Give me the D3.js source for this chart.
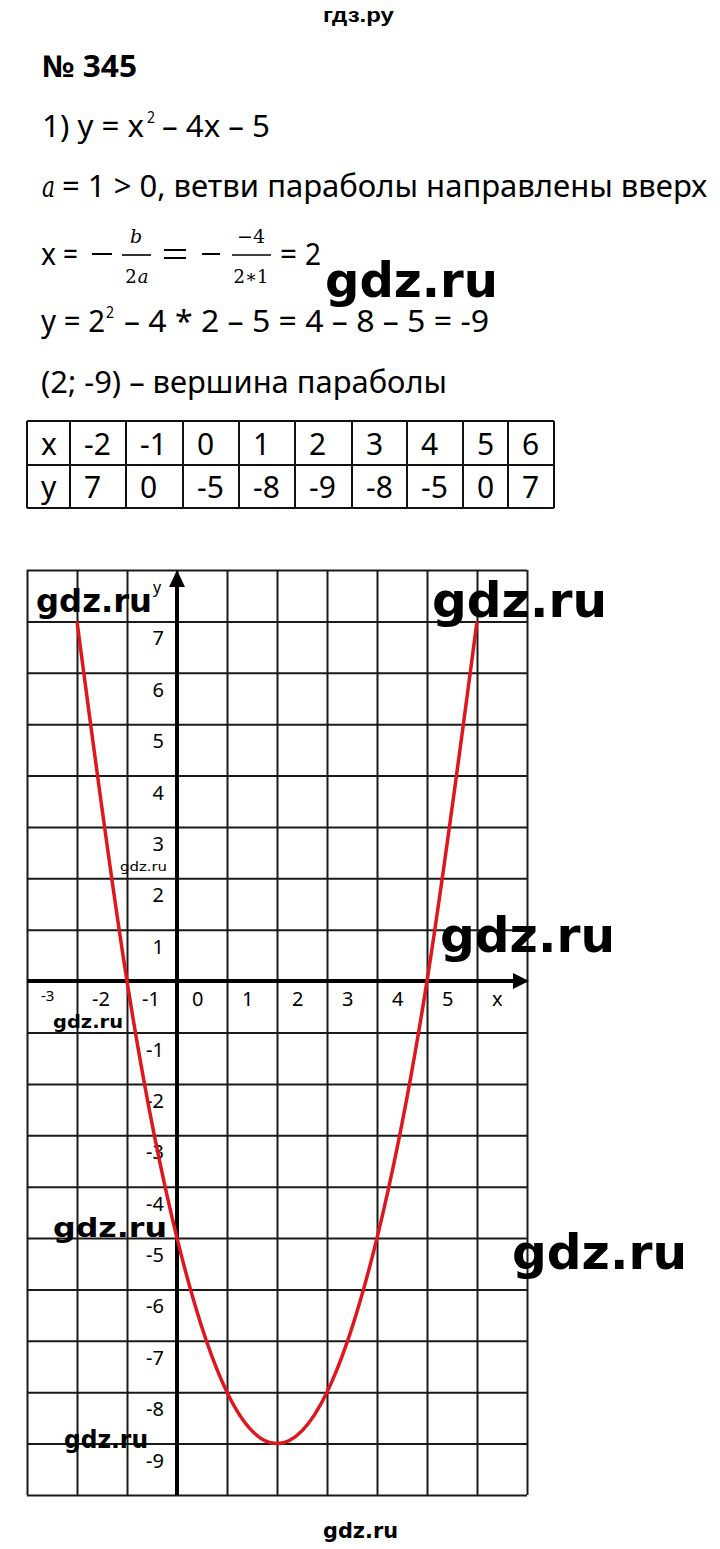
<!DOCTYPE html>
<html><head><meta charset="utf-8">
<script src="https://cdn.jsdelivr.net/npm/d3@7"></script>
<style>html,body{margin:0;padding:0;background:#fff;}svg{display:block;}</style>
</head><body>
<script>
// ---- data ----
const tableX = [-2, -1, 0, 1, 2, 3, 4, 5, 6];
const tableY = [7, 0, -5, -8, -9, -8, -5, 0, 7];
const xTickValues = [-3, -2, -1, 0, 1, 2, 3, 4, 5, 6];
const xTickLabels = ["-3", "-2", "-1", "0", "1", "2", "3", "4", "5", "x"];
const yTickValues = [7, 6, 5, 4, 3, 2, 1, -1, -2, -3, -4, -5, -6, -7, -8, -9];
const yTickLabels = ["7", "6", "5", "4", "3", "2", "1", "-1", "-2", "-3", "-4", "-5", "-6", "-7", "-8", "-9"];
const xDomain = [-3, 7];
const yDomain = [-10, 8];

// ---- layout ----
const W = 720, H = 1549;
const svg = d3.select("body").append("svg").attr("width", W).attr("height", H);
svg.append("rect").attr("width", W).attr("height", H).attr("fill", "#fff");
const F = "'Noto Sans', 'Open Sans', sans-serif";
const MF = "'DejaVu Serif', 'Liberation Serif', serif";

function txt(s, x, y, size, opts = {}) {
  const t = svg.append("text").attr("x", x).attr("y", y).text(s)
    .attr("font-family", opts.family || F).attr("font-size", size)
    .attr("fill", opts.fill || "#000");
  if (opts.weight) t.attr("font-weight", opts.weight);
  if (opts.style) t.attr("font-style", opts.style);
  if (opts.len) t.attr("textLength", opts.len).attr("lengthAdjust", "spacingAndGlyphs");
  if (opts.anchor) t.attr("text-anchor", opts.anchor);
  return t;
}

// header
txt("гдз.ру", 323, 22, 20, {family: "'Liberation Sans', Arial, sans-serif", weight: "bold", len: 71});
txt("№ 345", 42, 77, 30, {weight: "bold", len: 95});

// line 1
txt("1) y = x", 42, 137, 30, {len: 102});
txt("2", 147, 123, 17, {len: 8});
txt("– 4x – 5", 162, 137, 30, {len: 108});

// line 2
txt("a", 42, 197, 30, {family: MF, style: "italic", len: 13});
txt("= 1 > 0, ветви параболы направлены вверх", 62, 197, 30, {len: 645});

// fraction line
txt("x", 41, 265, 30, {len: 15});
txt("=", 63, 265, 30, {len: 15});
svg.append("line").attr("x1", 92).attr("x2", 112).attr("y1", 254).attr("y2", 254).attr("stroke", "#000").attr("stroke-width", 2);
txt("b", 136, 243, 19, {family: MF, style: "italic", anchor: "middle"});
svg.append("line").attr("x1", 122).attr("x2", 151).attr("y1", 255).attr("y2", 255).attr("stroke", "#000").attr("stroke-width", 1.6);
txt("2", 131, 283, 18, {family: MF, anchor: "middle"});
txt("a", 143, 283, 18, {family: MF, style: "italic", anchor: "middle"});
svg.append("line").attr("x1", 164).attr("x2", 186).attr("y1", 250).attr("y2", 250).attr("stroke", "#000").attr("stroke-width", 2);
svg.append("line").attr("x1", 164).attr("x2", 186).attr("y1", 258).attr("y2", 258).attr("stroke", "#000").attr("stroke-width", 2);
svg.append("line").attr("x1", 202).attr("x2", 220).attr("y1", 254).attr("y2", 254).attr("stroke", "#000").attr("stroke-width", 2);
txt("−4", 251, 243, 19, {family: MF, anchor: "middle"});
svg.append("line").attr("x1", 232).attr("x2", 271).attr("y1", 255).attr("y2", 255).attr("stroke", "#000").attr("stroke-width", 1.6);
txt("2∗1", 251, 283, 18, {family: MF, anchor: "middle"});
txt("=", 280, 265, 30, {len: 17});
txt("2", 305, 265, 30, {len: 16});

// line y
txt("y = 2", 41, 332, 30, {len: 64});
txt("2", 106, 318, 17, {len: 8});
txt("– 4 * 2 – 5 = 4 – 8 – 5 = -9", 124, 332, 30, {len: 365});

// vertex line
txt("(2; -9) – вершина параболы", 41, 393, 30, {len: 406});

// ---- table ----
const colEdges = [27, 70, 126, 183, 239, 295, 352, 407, 463, 508, 554];
const rowEdges = [421, 465, 508];
const tg = svg.append("g");
colEdges.forEach(cx => tg.append("line").attr("x1", cx).attr("x2", cx).attr("y1", rowEdges[0]).attr("y2", rowEdges[2]).attr("stroke", "#111").attr("stroke-width", 2));
rowEdges.forEach(ry => tg.append("line").attr("x1", colEdges[0]).attr("x2", colEdges[colEdges.length - 1]).attr("y1", ry).attr("y2", ry).attr("stroke", "#111").attr("stroke-width", 2));
const row1 = ["x"].concat(tableX.map(String));
const row2 = ["y"].concat(tableY.map(String));
row1.forEach((s, i) => txt(s, colEdges[i] + 14, 455, 30));
row2.forEach((s, i) => txt(s, colEdges[i] + 14, 498, 30));

// ---- graph ----
const x = d3.scaleLinear().domain(xDomain).range([27, 527]);
const y = d3.scaleLinear().domain(yDomain).range([1495, 570]);
const grid = svg.append("g");
grid.append("g").attr("transform", `translate(0,${y(yDomain[0])})`)
  .call(d3.axisBottom(x).tickValues(d3.range(xDomain[0], xDomain[1] + 1)).tickSize(-(y(yDomain[0]) - y(yDomain[1]))).tickFormat(""))
  .call(g => g.select(".domain").remove())
  .call(g => g.selectAll("line").attr("stroke", "#1a1a1a").attr("stroke-width", 2));
grid.append("g").attr("transform", `translate(${x(xDomain[0])},0)`)
  .call(d3.axisLeft(y).tickValues(d3.range(yDomain[0], yDomain[1] + 1)).tickSize(-(x(xDomain[1]) - x(xDomain[0]))).tickFormat(""))
  .call(g => g.select(".domain").remove())
  .call(g => g.selectAll("line").attr("stroke", "#1a1a1a").attr("stroke-width", 2));

// axes
svg.append("line").attr("x1", x(xDomain[0])).attr("x2", 516).attr("y1", y(0)).attr("y2", y(0)).attr("stroke", "#000").attr("stroke-width", 4);
svg.append("path").attr("d", `M${529},${y(0)} L${513},${y(0) - 8} L${513},${y(0) + 8} Z`).attr("fill", "#000");
svg.append("line").attr("x1", x(0)).attr("x2", x(0)).attr("y1", y(yDomain[0])).attr("y2", 585).attr("stroke", "#000").attr("stroke-width", 4);
svg.append("path").attr("d", `M${x(0)},570 L${x(0) - 8},587 L${x(0) + 8},587 Z`).attr("fill", "#000");

// tick labels
xTickValues.forEach((v, i) => {
  if (v === -3) txt(xTickLabels[i], x(v) + 14, y(0) + 20, 15);
  else txt(xTickLabels[i], x(v) + 15, y(0) + 25, 20);
});
yTickValues.forEach((v, i) => txt(yTickLabels[i], 164, y(v) + 24, 20, {anchor: "end"}));
txt("y", 153, 593, 16);

// parabola
const pts = tableX.map((d, i) => [d, tableY[i]]);
svg.append("path").datum(pts)
  .attr("d", d3.line().x(d => x(d[0])).y(d => y(d[1])).curve(d3.curveNatural))
  .attr("fill", "none").attr("stroke", "#e0161e").attr("stroke-width", 3.5);

// ---- watermarks ----
const WF = "'DejaVu Sans', Verdana, sans-serif";
function wm(x0, base, size, len, weight) {
  txt("gdz.ru", x0, base, size, {family: WF, weight: weight || "bold", len: len});
}
wm(325, 297, 48, 173);
wm(36, 612, 32, 116);
wm(432, 617, 48, 175);
wm(120, 871, 13, 47, "normal");
wm(440, 952, 48, 175);
wm(53, 1028, 18, 70);
wm(53, 1237, 27, 114);
wm(512, 1269, 48, 175);
wm(64, 1448, 24, 84);
wm(323, 1538, 21, 75);
</script>
</body></html>
